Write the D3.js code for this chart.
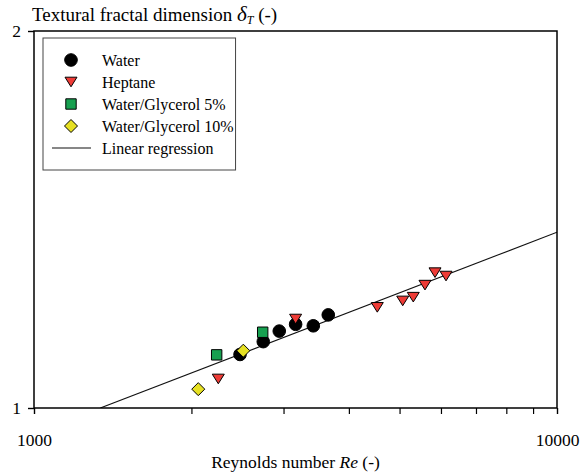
<!DOCTYPE html>
<html>
<head>
<meta charset="utf-8">
<script src="https://cdn.jsdelivr.net/npm/d3@7"></script>
<style>
  html, body { margin: 0; padding: 0; background: #fff; }
  svg { display: block; }
</style>
</head>
<body>
<svg id="chart" width="580" height="473"></svg>
<script>
// Reynolds number and textural fractal dimension for each fluid
const waterRe = [2477, 2744, 2944, 3164, 3420, 3653];
const waterDelta = [1.142, 1.176, 1.204, 1.222, 1.218, 1.247];

const heptaneRe = [2251, 3164, 4533, 5070, 5311, 5592, 5845, 6135];
const heptaneDelta = [1.077, 1.236, 1.267, 1.284, 1.294, 1.326, 1.359, 1.350];

const glycerol5Re = [2235, 2737];
const glycerol5Delta = [1.141, 1.201];

const glycerol10Re = [2061, 2513];
const glycerol10Delta = [1.050, 1.152];

// Regression: delta = intercept + slope * log10(Re)
const regIntercept = -0.6697;
const regSlope = 0.534;

const xTickValues = [1000, 10000];
const xMinorTicks = [2000, 3000, 4000, 5000, 6000, 7000, 8000, 9000];
const yTickValues = [1, 2];

const legendLabels = ["Water", "Heptane", "Water/Glycerol 5%", "Water/Glycerol 10%", "Linear regression"];

const margin = { left: 34, right: 23, top: 31, bottom: 65 };
const width = 580, height = 473;
const serif = "Liberation Serif";

const svg = d3.select("#chart").attr("font-family", serif);

const x = d3.scaleLog().domain([1000, 10000]).range([margin.left, width - margin.right]);
const y = d3.scaleLinear().domain([1, 2]).range([height - margin.bottom, margin.top]);

const x0 = x.range()[0], x1 = x.range()[1];
const y0 = y.range()[0], y1 = y.range()[1];

// marker shapes, centred on their bounding box
const shapes = {
  circle: r => `M${-r},0A${r},${r} 0 1,0 ${r},0A${r},${r} 0 1,0 ${-r},0Z`,
  triDown: s => `M${-s},${-s*0.8}L${s},${-s*0.8}L0,${s*0.8}Z`,
  square: s => `M${-s},${-s}H${s}V${s}H${-s}Z`,
  diamond: s => `M0,${-s}L${s},0L0,${s}L${-s},0Z`
};

const series = [
  { re: waterRe, d: waterDelta, path: shapes.circle(6.3), fill: "#000000" },
  { re: heptaneRe, d: heptaneDelta, path: shapes.triDown(6), fill: "#ee3b36" },
  { re: glycerol5Re, d: glycerol5Delta, path: shapes.square(5.2), fill: "#17a050" },
  { re: glycerol10Re, d: glycerol10Delta, path: shapes.diamond(6.5), fill: "#e6e022" }
];

// clip for the regression line
svg.append("clipPath").attr("id", "plotClip")
  .append("rect").attr("x", x0).attr("y", y1).attr("width", x1 - x0).attr("height", y0 - y1);

// regression line
const reStart = Math.pow(10, (1 - regIntercept) / regSlope);
const regPts = [reStart, 10000].map(r => [r, regIntercept + regSlope * Math.log10(r)]);
svg.append("path")
  .attr("clip-path", "url(#plotClip)")
  .attr("d", d3.line().x(p => x(p[0])).y(p => y(p[1]))(regPts))
  .attr("fill", "none").attr("stroke", "#111").attr("stroke-width", 1.1);

// data markers
series.forEach(s => {
  svg.append("g").selectAll("path")
    .data(s.re.map((r, i) => [r, s.d[i]]))
    .join("path")
    .attr("transform", p => `translate(${x(p[0])},${y(p[1])})`)
    .attr("d", s.path)
    .attr("fill", s.fill)
    .attr("stroke", "#000").attr("stroke-width", 1);
});

// frame
svg.append("rect")
  .attr("x", x0).attr("y", y1).attr("width", x1 - x0).attr("height", y0 - y1)
  .attr("fill", "none").attr("stroke", "#000").attr("stroke-width", 1.5);

// x axis
const xAxis = d3.axisBottom(x).tickValues(xTickValues).tickFormat(d3.format("d")).tickSizeOuter(0).tickSize(6).tickPadding(20);
const gx = svg.append("g").attr("transform", `translate(0,${y0})`).call(xAxis).attr("font-family", serif);
gx.select(".domain").remove();
gx.selectAll(".tick line").attr("stroke-width", 1.4);
gx.selectAll("text").attr("font-size", 17.5).attr("fill", "#000");
const xMinor = d3.axisBottom(x).tickValues(xMinorTicks).tickFormat("").tickSizeOuter(0).tickSize(6);
const gxm = svg.append("g").attr("transform", `translate(0,${y0})`).call(xMinor);
gxm.select(".domain").remove();
gxm.selectAll(".tick line").attr("stroke-width", 1.2);

// y axis
const yAxis = d3.axisLeft(y).tickValues(yTickValues).tickFormat(d3.format("d")).tickSizeOuter(0).tickSize(6).tickPadding(7);
const gy = svg.append("g").attr("transform", `translate(${x0},0)`).call(yAxis).attr("font-family", serif);
gy.select(".domain").remove();
gy.selectAll(".tick line").attr("stroke-width", 1.4);
gy.selectAll("text").attr("font-size", 17.5).attr("fill", "#000");

// axis titles
const yTitle = svg.append("text").attr("x", 32).attr("y", 21).attr("font-size", 19).attr("fill", "#000");
yTitle.append("tspan").text("Textural fractal dimension ");
yTitle.append("tspan").attr("font-style", "italic").attr("font-size", 21).text("δ");
yTitle.append("tspan").attr("font-style", "italic").attr("font-size", 12).attr("dy", 3).text("T");
yTitle.append("tspan").attr("dy", -3).text(" (-)");

const xTitle = svg.append("text").attr("x", (x0 + x1) / 2).attr("y", 468)
  .attr("text-anchor", "middle").attr("font-size", 17.5).attr("fill", "#000");
xTitle.append("tspan").text("Reynolds number ");
xTitle.append("tspan").attr("font-style", "italic").text("Re");
xTitle.append("tspan").text(" (-)");

// legend
const lg = svg.append("g");
const lgX = 43, lgY = 38, rowH = 22;
const markX = 71, textX = 102;
const lgBox = lg.append("rect").attr("x", lgX).attr("y", lgY).attr("height", 132)
  .attr("fill", "#fff").attr("stroke", "#444").attr("stroke-width", 1);
let maxRight = 0;
legendLabels.forEach((label, i) => {
  const cy = lgY + 22 + i * rowH;
  if (i < series.length) {
    lg.append("path").attr("transform", `translate(${markX},${cy})`)
      .attr("d", series[i].path).attr("fill", series[i].fill)
      .attr("stroke", "#000").attr("stroke-width", 1);
  } else {
    lg.append("line").attr("x1", 52).attr("x2", 91).attr("y1", cy).attr("y2", cy)
      .attr("stroke", "#111").attr("stroke-width", 1.1);
  }
  const t = lg.append("text").attr("x", textX).attr("y", cy).attr("dy", "0.35em")
    .attr("font-size", 16).attr("fill", "#000").text(label);
  maxRight = Math.max(maxRight, textX + t.node().getComputedTextLength());
});
lgBox.attr("width", maxRight + 2 - lgX);
</script>
</body>
</html>
